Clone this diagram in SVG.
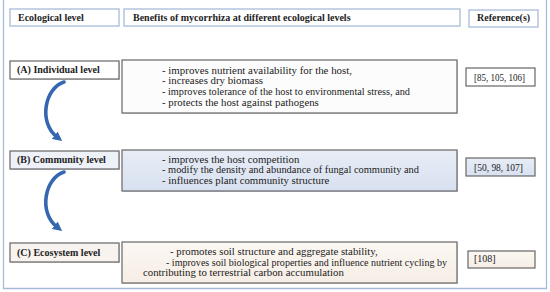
<svg xmlns="http://www.w3.org/2000/svg" width="550" height="292" viewBox="0 0 550 292">
<style>
.hdr{fill:#ffffff;stroke:#a8bad9;stroke-width:1.3}
.hb{font-family:"Liberation Serif",serif;font-weight:bold;font-size:10px;fill:#222}
.tx{font-family:"Liberation Serif",serif;font-size:10.8px;fill:#222}
.rf{font-family:"Liberation Serif",serif;font-size:10px;fill:#222}
.bx{stroke:#666;stroke-width:1.2}
.arr{fill:none;stroke:#3566b0;stroke-width:3.6;stroke-linecap:round}
</style>
<defs>
<linearGradient id="gb" x1="0" y1="0" x2="0" y2="1">
<stop offset="0" stop-color="#e8edf6"/><stop offset="1" stop-color="#d8e1f0"/>
</linearGradient>
<linearGradient id="gc" x1="0" y1="0" x2="0" y2="1">
<stop offset="0" stop-color="#fbf7f2"/><stop offset="1" stop-color="#f6eee6"/>
</linearGradient>
<marker id="ah" viewBox="0 0 10 10" refX="3" refY="5" markerWidth="2.6" markerHeight="2.6" orient="auto" markerUnits="strokeWidth">
<path d="M0,0 L10,5 L0,10 z" fill="#3566b0"/>
</marker>
</defs>
<rect x="0" y="0" width="550" height="292" fill="#ffffff"/>
<path d="M3.5,0 V288.5 H546.5 V0" fill="none" stroke="#a8bad9" stroke-width="1.3"/>

<g id="header-level"><rect class="hdr" x="10" y="9" width="109" height="17"/><text class="hb" x="18" y="20.5">Ecological level</text></g>
<g id="header-benefits"><rect class="hdr" x="124" y="9" width="336" height="17"/><text class="hb" x="133" y="20.5">Benefits of mycorrhiza at different ecological levels</text></g>
<g id="header-refs"><rect class="hdr" x="469" y="10" width="69" height="17"/><text class="hb" x="477" y="21">Reference(s)</text></g>

<g id="level-a">
<rect x="11" y="62" width="109" height="18" fill="#d9d9d9"/>
<rect class="bx" x="10" y="61" width="109" height="18" fill="#ffffff"/>
<text class="hb" x="17" y="73">(A) Individual level</text>
</g>
<g id="benefits-a">
<rect x="123" y="61" width="335" height="53" fill="#d9d9d9"/>
<rect class="bx" x="122" y="60" width="335" height="53" fill="#fcfcfc"/>
<text class="tx" x="162" y="73.5" textLength="190" lengthAdjust="spacingAndGlyphs">-  improves nutrient availability for the host,</text>
<text class="tx" x="162" y="84.2">-  increases dry biomass</text>
<text class="tx" x="162" y="94.9" textLength="248" lengthAdjust="spacingAndGlyphs">-  improves tolerance of the host to environmental stress, and</text>
<text class="tx" x="162" y="105.6">-  protects the host against pathogens</text>
</g>
<g id="ref-a">
<rect class="bx" x="466" y="68" width="69" height="18" fill="#ffffff"/>
<text class="rf" x="474" y="80.5" textLength="51" lengthAdjust="spacingAndGlyphs">[85, 105, 106]</text>
</g>

<g id="level-b">
<rect x="11" y="152" width="109" height="18" fill="#d0d5de"/>
<rect class="bx" x="10" y="151" width="109" height="18" fill="#eef1f7" stroke="#5f6b80"/>
<text class="hb" x="17" y="163">(B) Community level</text>
</g>
<g id="benefits-b">
<rect x="123" y="151" width="335" height="41" fill="#cfd5e0"/>
<rect class="bx" x="122" y="150" width="335" height="41" fill="url(#gb)" stroke="#5f6b80"/>
<text class="tx" x="162" y="162.7">-  improves the host competition</text>
<text class="tx" x="162" y="173.4" textLength="257" lengthAdjust="spacingAndGlyphs">-  modify the density and abundance of fungal community and</text>
<text class="tx" x="162" y="184.1">-  influences plant community structure</text>
</g>
<g id="ref-b">
<rect class="bx" x="466" y="158" width="69" height="18" fill="url(#gb)" stroke="#5f6b80"/>
<text class="rf" x="474" y="170.5" textLength="49" lengthAdjust="spacingAndGlyphs">[50, 98, 107]</text>
</g>

<g id="level-c">
<rect x="11" y="244" width="109" height="19" fill="#d9d9d9"/>
<rect class="bx" x="10" y="243" width="109" height="19" fill="#f8f3ee"/>
<text class="hb" x="17" y="255.5">(C) Ecosystem level</text>
</g>
<g id="benefits-c">
<rect x="123" y="243" width="335" height="41" fill="#d9d9d9"/>
<rect class="bx" x="122" y="242" width="335" height="41" fill="url(#gc)"/>
<text class="tx" x="170" y="255">-  promotes soil structure and aggregate stability,</text>
<text class="tx" x="166" y="265.7" textLength="281" lengthAdjust="spacingAndGlyphs">-  improves soil biological properties and influence nutrient cycling by</text>
<text class="tx" x="143" y="276.4">contributing to terrestrial carbon accumulation</text>
</g>
<g id="ref-c">
<rect class="bx" x="468" y="251" width="67" height="17" fill="url(#gc)"/>
<text class="rf" x="474" y="262">[108]</text>
</g>

<g id="connectors">
<path class="arr" d="M64,82 C45,88 38,122 57,137" marker-end="url(#ah)"/>
<path class="arr" d="M64,172 C45,178 38,212 57,227" marker-end="url(#ah)"/>
</g>
</svg>
